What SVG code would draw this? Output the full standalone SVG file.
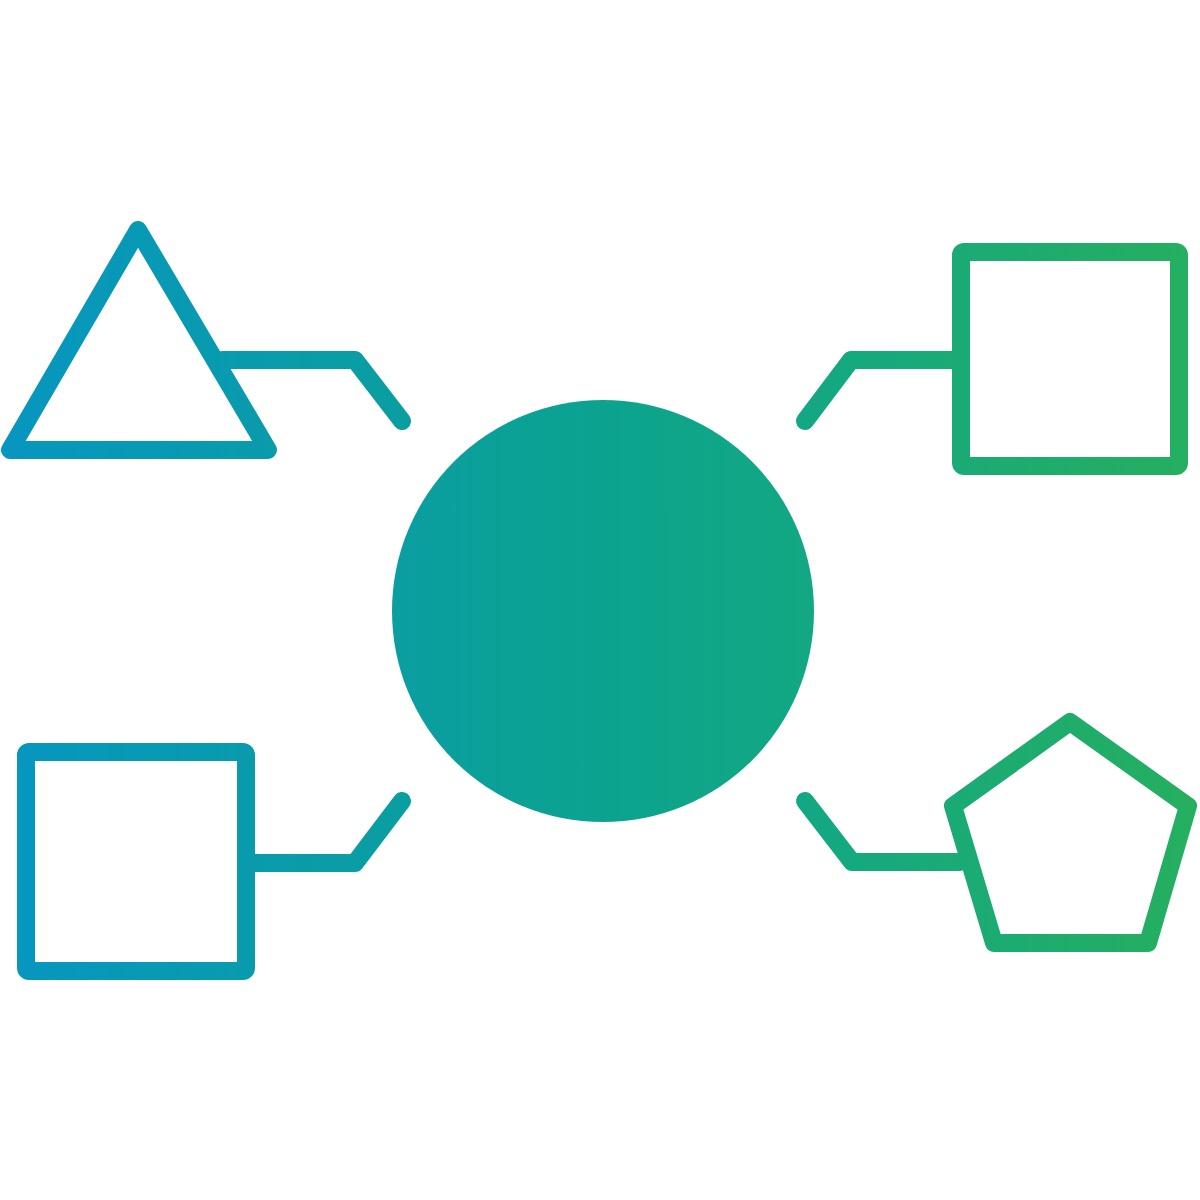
<svg xmlns="http://www.w3.org/2000/svg" width="1200" height="1200" viewBox="0 0 1200 1200">
  <defs>
    <linearGradient id="g" gradientUnits="userSpaceOnUse" x1="0" y1="0" x2="1200" y2="0">
      <stop offset="0" stop-color="#0796c0"/>
      <stop offset="0.33" stop-color="#0a9ea1"/>
      <stop offset="0.5" stop-color="#0ba38f"/>
      <stop offset="0.68" stop-color="#13a882"/>
      <stop offset="1" stop-color="#26af5f"/>
    </linearGradient>
  </defs>
  <style>
    .s { fill: none; stroke: url(#g); stroke-width: 18; stroke-linejoin: round; stroke-linecap: round; }
    .c { fill: url(#g); }
  </style>
  <rect width="1200" height="1200" fill="#ffffff"/>
  <g id="connectors">
    <polyline class="s" points="222,360 355,360 402,421"/>
    <polyline class="s" points="961,360 851,360 805,421"/>
    <polyline class="s" points="246,863 355,863 402,801"/>
    <polyline class="s" points="960,862 852,862 805,801"/>
  </g>
  <g id="hub"><circle class="c" cx="603" cy="611" r="211"/></g>
  <g id="triangle"><polygon class="s" points="138,230 10,450 268,450"/></g>
  <g id="square-top-right"><rect class="s" x="961" y="252" width="218" height="214" rx="3"/></g>
  <g id="square-bottom-left"><rect class="s" x="26" y="752" width="220" height="219" rx="3"/></g>
  <g id="pentagon"><polygon class="s" points="1070,722 1188,806 1148,943 994,943 953,806"/></g>
</svg>
